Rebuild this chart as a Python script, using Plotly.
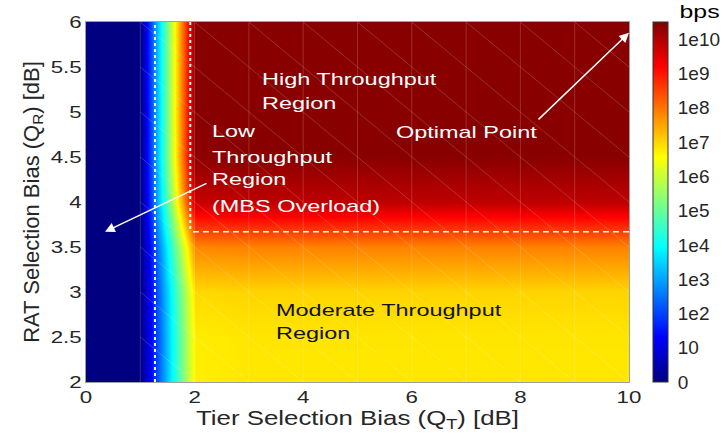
import plotly.graph_objects as go

# Grid of the throughput surface
tier_bias = [0, 1, 2, 3, 4, 5, 6, 7, 8, 9, 10]          # Q_T [dB]
rat_bias = [2.0, 2.5, 3.0, 3.5, 4.0, 4.5, 5.0, 5.5, 6.0]  # Q_R [dB]

# log10 of throughput (bps), one row per RAT bias value
log_tput = [
    [0, 0, 6.72, 6.80, 6.80, 6.80, 6.80, 6.80, 6.80, 6.80, 6.80],
    [0, 0, 6.74, 6.82, 6.82, 6.82, 6.82, 6.82, 6.82, 6.82, 6.82],
    [0, 0, 6.95, 7.00, 7.00, 7.00, 7.00, 7.00, 7.00, 7.00, 7.00],
    [0, 0, 7.80, 7.85, 7.85, 7.85, 7.85, 7.85, 7.85, 7.85, 7.85],
    [0, 0, 9.75, 9.85, 9.85, 9.85, 9.85, 9.85, 9.85, 9.85, 9.85],
    [0, 0, 10.35, 10.40, 10.40, 10.40, 10.40, 10.40, 10.40, 10.40, 10.40],
    [0, 0, 10.40, 10.42, 10.42, 10.42, 10.42, 10.42, 10.42, 10.42, 10.42],
    [0, 0, 10.40, 10.42, 10.42, 10.42, 10.42, 10.42, 10.42, 10.42, 10.42],
    [0, 0, 10.40, 10.42, 10.42, 10.42, 10.42, 10.42, 10.42, 10.42, 10.42],
]

cbar_tickvals = [0, 1, 2, 3, 4, 5, 6, 7, 8, 9, 10]
cbar_ticktext = ["0", "10", "1e2", "1e3", "1e4", "1e5", "1e6", "1e7", "1e8", "1e9", "1e10"]

# Region boundaries
qt_overload = 1.27      # MBS overload limit
qt_high = 1.92          # start of high-throughput region
qr_high = 3.67          # RAT bias threshold
mesh_start = 1          # first tier-bias column drawn with mesh edges

jet = [
    [0.0, "rgb(0,0,128)"],
    [0.125, "rgb(0,0,255)"],
    [0.375, "rgb(0,255,255)"],
    [0.625, "rgb(255,255,0)"],
    [0.875, "rgb(255,0,0)"],
    [1.0, "rgb(128,0,0)"],
]

FONT = "Liberation Sans, Arial, Helvetica, sans-serif"
TXT = "#262626"

fig = go.Figure()

fig.add_trace(go.Heatmap(
    x=tier_bias, y=rat_bias, z=log_tput,
    zsmooth="best", colorscale=jet, zmin=0, zmax=10.5,
    hoverinfo="skip",
    colorbar=dict(
        x=1.0442, xanchor="left", xpad=0,
        y=1, yanchor="top", ypad=0,
        lenmode="pixels", len=360, thickness=15,
        outlinewidth=1, outlinecolor="#333333",
        tickvals=cbar_tickvals, ticktext=cbar_ticktext,
        ticks="outside", ticklen=6, tickcolor="rgba(0,0,0,0)",
        tickfont=dict(family=FONT, size=19, color=TXT),
    ),
))

# Faint mesh edges: verticals and cell diagonals
vx, vy = [], []
for xv in tier_bias[mesh_start:-1]:
    vx += [xv, xv, None]
    vy += [rat_bias[0], rat_bias[-1], None]
dx, dy = [], []
for i in range(mesh_start, len(tier_bias) - 1):
    for j in range(len(rat_bias) - 1):
        dx += [tier_bias[i], tier_bias[i + 1], None]
        dy += [rat_bias[j + 1], rat_bias[j], None]
fig.add_trace(go.Scatter(x=vx + dx, y=vy + dy, mode="lines",
                         line=dict(color="rgba(255,255,255,0.22)", width=0.8),
                         hoverinfo="skip", showlegend=False))

# Region boundary lines
fig.add_trace(go.Scatter(x=[qt_overload, qt_overload], y=[rat_bias[0], rat_bias[-1]],
                         mode="lines", line=dict(color="white", width=2, dash="3px,3px"),
                         hoverinfo="skip", showlegend=False))
fig.add_trace(go.Scatter(x=[qt_high, qt_high], y=[rat_bias[-1], qr_high],
                         mode="lines", line=dict(color="white", width=2, dash="3px,3px"),
                         hoverinfo="skip", showlegend=False))
fig.add_trace(go.Scatter(x=[qt_high + 0.05, tier_bias[-1]], y=[qr_high, qr_high],
                         mode="lines", line=dict(color="white", width=1.5, dash="6px,4px"),
                         hoverinfo="skip", showlegend=False))

annots = []

def label(x, y, text, color="white"):
    annots.append(dict(x=x, y=y, xref="x", yref="y", text=text, showarrow=False,
                       xanchor="left", yanchor="middle", align="left",
                       font=dict(family=FONT, size=17, color=color)))

label(3.205, 5.36, "High Throughput")
label(3.205, 5.10, "Region")
label(2.285, 4.78, "Low")
label(2.285, 4.50, "Throughput")
label(2.285, 4.245, "Region")
label(2.285, 3.955, "(MBS Overload)")
label(5.675, 4.77, "Optimal Point")
label(3.465, 2.80, "Moderate Throughput", "#111111")
label(3.465, 2.54, "Region", "#111111")

arrow = dict(xref="x", yref="y", text="", showarrow=True, arrowcolor="white",
             arrowwidth=1.5, arrowhead=2, arrowsize=1.3, axref="pixel", ayref="pixel")
annots.append(dict(arrow, x=0.35, y=3.67, ax=103, ay=-49))
annots.append(dict(arrow, x=10.0, y=5.88, ax=-92, ay=88))

annots.append(dict(x=1.129, y=1, xref="paper", yref="paper",
                   yshift=10, text="bps", showarrow=False, xanchor="center",
                   yanchor="middle", align="center",
                   font=dict(family=FONT, size=18, color="black")))

fig.update_layout(
    width=723, height=439,
    margin=dict(l=86, r=94, t=22, b=57, autoexpand=False),
    paper_bgcolor="white", plot_bgcolor="white",
    showlegend=False,
    annotations=annots,
    xaxis=dict(range=[0, 10], tickvals=[0, 2, 4, 6, 8, 10], showgrid=False, zeroline=False,
               showline=True, linecolor="#a0a0a0", linewidth=1, mirror=True,
               ticks="", tickfont=dict(family=FONT, size=16.5, color=TXT),
               title=dict(text="Tier Selection Bias (Q<sub>T</sub>) [dB]",
                          font=dict(family=FONT, size=21, color=TXT), standoff=4)),
    yaxis=dict(range=[2, 6], tickvals=[2, 2.5, 3, 3.5, 4, 4.5, 5, 5.5, 6], showgrid=False,
               zeroline=False, showline=True, linecolor="#a0a0a0", linewidth=1, mirror=True,
               ticks="", tickfont=dict(family=FONT, size=16.5, color=TXT),
               title=dict(text="RAT Selection Bias (Q<sub>R</sub>) [dB]",
                          font=dict(family=FONT, size=22, color=TXT), standoff=13)),
)

# The lettering in this figure is set wide: widen horizontal labels once drawn.
widen_text = """
var gd = document.getElementsByClassName('plotly-graph-div')[0];
function widen(sel, k) {
  gd.querySelectorAll(sel).forEach(function (t) {
    var w = t.getComputedTextLength();
    if (w > 0) {
      t.setAttribute('textLength', (w * k).toFixed(1));
      t.setAttribute('lengthAdjust', 'spacingAndGlyphs');
    }
  });
}
widen('text.annotation-text', 1.38);
widen('g.xtick > text', 1.35);
widen('g.ytick > text', 1.35);
widen('text.xtitle', 1.23);
"""

fig.write_html("out.html", post_script=widen_text)
